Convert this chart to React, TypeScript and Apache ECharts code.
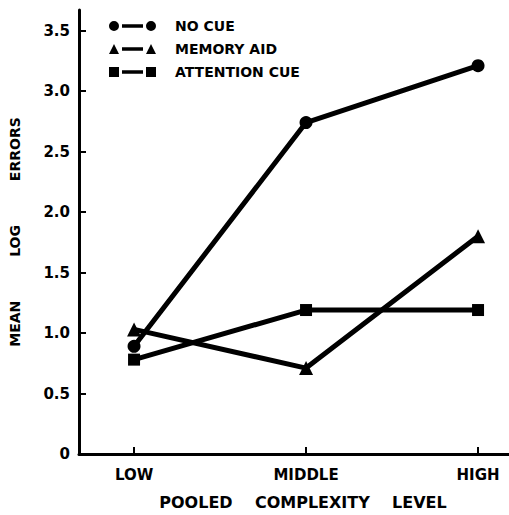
import React, { useEffect, useRef } from "react";
import * as echarts from "echarts";

const levels = ["LOW", "MIDDLE", "HIGH"];
const noCue = [0.89, 2.74, 3.21];
const memoryAid = [1.03, 0.71, 1.8];
const attentionCue = [0.78, 1.19, 1.19];
const yTicks = [0, 0.5, 1.0, 1.5, 2.0, 2.5, 3.0, 3.5];
const seriesNames = ["NO CUE", "MEMORY AID", "ATTENTION CUE"];

const iconCircle =
  "path://M0,5a5,5 0 1,0 10,0a5,5 0 1,0 -10,0Z M13,3.2L34,3.2L34,6.8L13,6.8Z M37,5a5,5 0 1,0 10,0a5,5 0 1,0 -10,0Z";
const iconTriangle =
  "path://M0,10L5,0L10,10Z M13,3.2L34,3.2L34,6.8L13,6.8Z M37,10L42,0L47,10Z";
const iconSquare =
  "path://M0,0L10,0L10,10L0,10Z M13,3.2L34,3.2L34,6.8L13,6.8Z M37,0L47,0L47,10L37,10Z";

export default function App() {
  const ref = useRef<HTMLDivElement>(null);
  useEffect(() => {
    const chart = echarts.init(ref.current!, null, { renderer: "svg" });
    const font = "'DejaVu Sans', Arial, sans-serif";
    const mk = (vals: number[]) => vals.map((v, i) => [i, v]);
    chart.setOption({
      animation: false,
      backgroundColor: "#ffffff",
      grid: { left: 78, right: 0, top: 10, bottom: 55, containLabel: false },
      legend: {
        orient: "vertical",
        left: 104,
        top: 14,
        itemGap: 9,
        itemWidth: 47,
        itemHeight: 10,
        textStyle: {
          color: "#000",
          fontSize: 14,
          fontWeight: "bold",
          fontFamily: font,
          padding: [0, 0, 0, 14],
        },
        data: [
          { name: seriesNames[0], icon: iconCircle },
          { name: seriesNames[1], icon: iconTriangle },
          { name: seriesNames[2], icon: iconSquare },
        ],
      },
      xAxis: {
        type: "value",
        min: -0.32,
        max: 2.18,
        name: "POOLED    COMPLEXITY    LEVEL",
        nameLocation: "middle",
        nameGap: 40,
        nameTextStyle: {
          color: "#000",
          fontSize: 16,
          fontWeight: "bold",
          fontFamily: font,
          padding: [0, 0, 0, 18],
        },
        splitLine: { show: false },
        axisLine: { show: true, onZero: false, lineStyle: { color: "#000", width: 3 } },
        axisTick: {
          show: true,
          inside: true,
          length: 7,
          customValues: [0, 1, 2],
          lineStyle: { color: "#000", width: 2 },
        },
        axisLabel: {
          customValues: [0, 1, 2],
          formatter: (v: number) => levels[Math.round(v)] ?? "",
          color: "#000",
          fontSize: 15,
          fontWeight: "bold",
          fontFamily: font,
          margin: 13,
        },
      },
      yAxis: {
        type: "value",
        min: 0,
        max: 3.67,
        name: "MEAN         LOG         ERRORS",
        nameLocation: "middle",
        nameGap: 57,
        nameRotate: 90,
        nameTextStyle: {
          color: "#000",
          fontSize: 14,
          fontWeight: "bold",
          fontFamily: font,
          padding: [0, 0, 0, 0],
        },
        splitLine: { show: false },
        axisLine: { show: true, onZero: false, lineStyle: { color: "#000", width: 3 } },
        axisTick: {
          show: true,
          inside: true,
          length: 7,
          customValues: yTicks,
          lineStyle: { color: "#000", width: 2 },
        },
        axisLabel: {
          customValues: yTicks,
          formatter: (v: number) => (v === 0 ? "0" : v.toFixed(1)),
          color: "#000",
          fontSize: 15,
          fontWeight: "bold",
          fontFamily: font,
          margin: 9,
        },
      },
      series: [
        {
          name: seriesNames[0],
          type: "line",
          data: mk(noCue),
          symbol: "circle",
          symbolSize: 13,
          itemStyle: { color: "#000" },
          lineStyle: { color: "#000", width: 5 },
        },
        {
          name: seriesNames[1],
          type: "line",
          data: mk(memoryAid),
          symbol: "triangle",
          symbolSize: 14,
          itemStyle: { color: "#000" },
          lineStyle: { color: "#000", width: 5 },
        },
        {
          name: seriesNames[2],
          type: "line",
          data: mk(attentionCue),
          symbol: "rect",
          symbolSize: 12,
          itemStyle: { color: "#000" },
          lineStyle: { color: "#000", width: 5 },
        },
      ],
    });
    return () => chart.dispose();
  }, []);
  return (
    <div
      ref={ref}
      style={{ position: "fixed", left: 0, top: 0, width: 509, height: 515, background: "#fff" }}
    />
  );
}
